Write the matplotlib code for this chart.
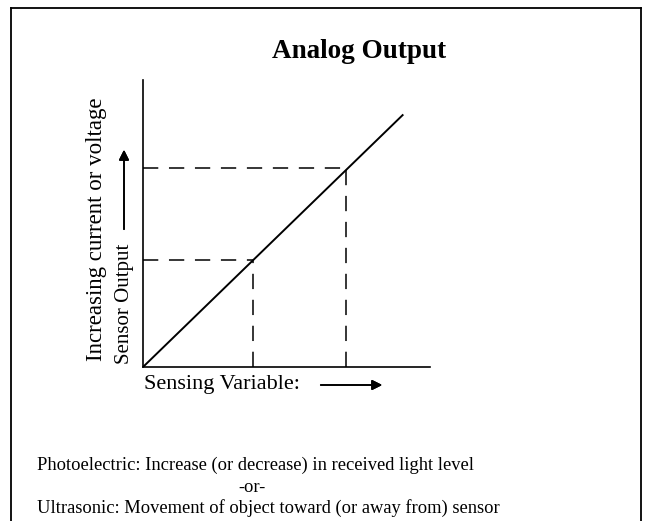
import matplotlib
matplotlib.use('Agg')
import matplotlib.pyplot as plt
from matplotlib.lines import Line2D

# ── data (arbitrary units) ───────────────────────────────────────────────────
sensing_line = [0.0, 9.07]      # ends of the solid response line
output_line  = [0.0, 8.80]
sensing_marks = [3.83, 7.07]    # where the dashed guides meet the line
output_marks  = [3.73, 6.92]

TITLE   = 'Analog Output'
YLABEL1 = 'Increasing current or voltage'
YLABEL2 = 'Sensor Output'
XLABEL  = 'Sensing Variable:'
NOTES   = ['Photoelectric: Increase (or decrease) in received light level',
           '-or-',
           'Ultrasonic: Movement of object toward (or away from) sensor']

W, H = 652, 521
plt.rcParams['font.family'] = ['Liberation Serif', 'DejaVu Serif']

fig = plt.figure(figsize=(W / 100, H / 100), dpi=100)

def fx(px):
    return px / W

def fy(py):
    return 1 - py / H

# frame around the whole figure (no bottom edge, it runs off the page)
for xs, ys in [([11, 11], [530, 8]), ([11, 641], [8, 8]), ([641, 641], [8, 530])]:
    fig.add_artist(Line2D([fx(x) for x in xs], [fy(y) for y in ys],
                          color='black', lw=1.3))

ax = fig.add_axes([fx(143), fy(367), fx(430) - fx(143), fy(80) - fy(367)])
ax.set_xlim(0, 10)
ax.set_ylim(0, 10)
for s in ['top', 'right']:
    ax.spines[s].set_visible(False)
for s in ['left', 'bottom']:
    ax.spines[s].set_linewidth(1.2)
ax.set_xticks([])
ax.set_yticks([])

ax.plot(sensing_line, output_line, color='black', lw=1.4, solid_capstyle='butt')

for xv, yv in zip(sensing_marks, output_marks):
    ax.plot([0, xv], [yv, yv], color='black', lw=1.1, dashes=(10, 7))
    ax.plot([xv, xv], [0, yv], color='black', lw=1.1, dashes=(10, 7))

fig.text(fx(359), fy(52), TITLE, ha='center', va='center',
         fontsize=19.5, fontweight='bold')

fig.text(fx(97), fy(229), YLABEL1, rotation=90, ha='center', va='center',
         fontsize=16.5)
fig.text(fx(124), fy(364), YLABEL2, rotation=90, ha='center', va='bottom',
         fontsize=15)
fig.add_artist(plt.annotate('', xy=(fx(124), fy(147)), xycoords='figure fraction',
                            xytext=(fx(124), fy(232)), textcoords='figure fraction',
                            arrowprops=dict(arrowstyle='-|>', color='black', lw=1.2,
                                            mutation_scale=15)))

fig.text(fx(144), fy(385), XLABEL, ha='left', va='center', fontsize=16)
fig.add_artist(plt.annotate('', xy=(fx(385), fy(385)), xycoords='figure fraction',
                            xytext=(fx(318), fy(385)), textcoords='figure fraction',
                            arrowprops=dict(arrowstyle='-|>', color='black', lw=1.2,
                                            mutation_scale=15)))

fig.text(fx(37), fy(465), NOTES[0], ha='left', va='center', fontsize=13.3)
fig.text(fx(252), fy(487), NOTES[1], ha='center', va='center', fontsize=13.3)
fig.text(fx(37), fy(508), NOTES[2], ha='left', va='center', fontsize=13.3)

plt.savefig('out.png', dpi=100)
